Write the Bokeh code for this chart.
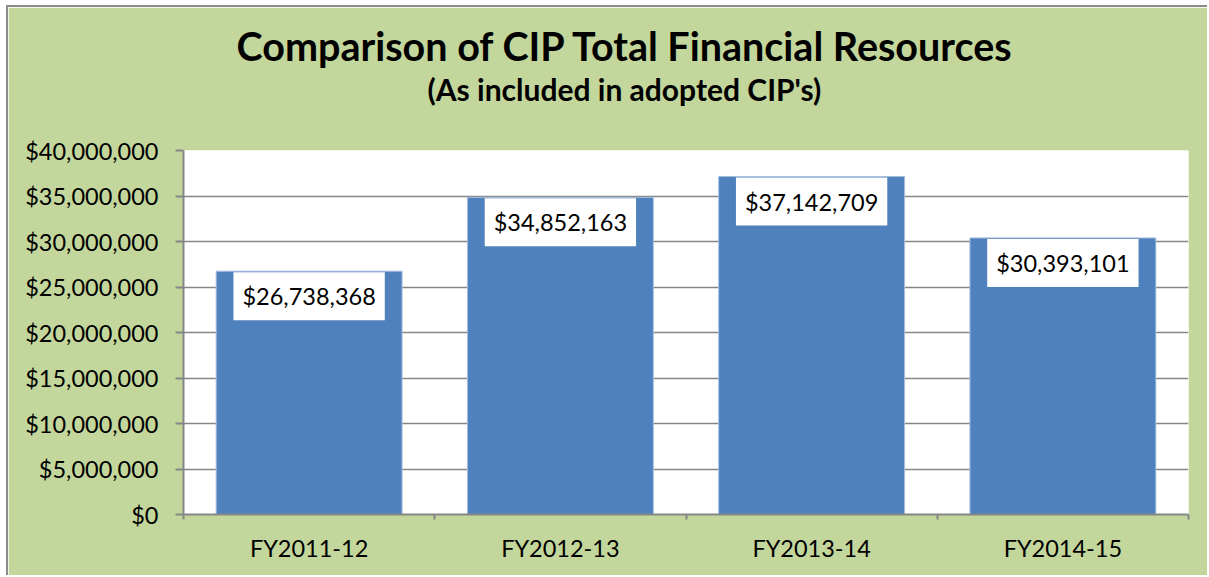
import numpy as np
from bokeh.plotting import figure
from bokeh.models import (ColumnDataSource, Range1d, FixedTicker, NumeralTickFormatter, Title)
from bokeh.core.properties import value
from bokeh.embed import file_html
from bokeh.resources import INLINE

categories = ["FY2011-12", "FY2012-13", "FY2013-14", "FY2014-15"]
totals = [26738368, 34852163, 37142709, 30393101]
y_ticks = [0, 5000000, 10000000, 15000000, 20000000, 25000000, 30000000, 35000000, 40000000]
title_text = "Comparison of CIP Total Financial Resources"
subtitle_text = "(As included in adopted CIP's)"

GREEN = "#C3D69B"
BLUE = "#4F81BD"
GRAY = "#868686"
FONT = "Lato"

xs = np.arange(len(categories)) + 0.5
labels = ["${:,}".format(v) for v in totals]
src = ColumnDataSource(dict(x=xs, top=totals, label=labels))

p = figure(width=1201, height=570, output_backend="svg", toolbar_location=None,
           x_range=Range1d(0, len(categories)), y_range=Range1d(0, 40000000),
           min_border_left=175, min_border_right=21, min_border_top=143, min_border_bottom=63)
p.styles = {"border-left": "2px solid #8C8C8C", "border-top": "2px solid #8C8C8C",
            "margin-left": "6px", "margin-top": "5px"}
p.background_fill_color = "white"
p.border_fill_color = GREEN
p.outline_line_color = None

p.vbar(x="x", top="top", width=0.74, source=src, fill_color=BLUE,
       line_color="#A7BFDE", line_width=1)

p.text(x="x", y="top", text="label", source=src, text_align="center",
       text_baseline="middle", y_offset=25, text_font=value(FONT),
       text_font_size="23.5px", text_color="black",
       background_fill_color="white", padding=dict(left=9, right=9, top=10, bottom=10))

# axes
yax = p.yaxis[0]
yax.ticker = FixedTicker(ticks=y_ticks, minor_ticks=[])
yax.formatter = NumeralTickFormatter(format="$0,0")
yax.axis_line_color = GRAY
yax.axis_line_width = 2
yax.major_tick_line_color = GRAY
yax.major_tick_line_width = 2
yax.major_tick_in = 0
yax.major_tick_out = 8
yax.major_label_standoff = 17
yax.major_label_text_font = FONT
yax.major_label_text_font_size = "23.5px"
yax.major_label_text_color = "black"

xax = p.xaxis[0]
xax.ticker = FixedTicker(ticks=list(xs), minor_ticks=list(range(len(categories) + 1)))
xax.major_label_overrides = {float(x): c for x, c in zip(xs, categories)}
xax.axis_line_color = GRAY
xax.axis_line_width = 2
xax.major_tick_line_color = None
xax.major_tick_in = 0
xax.major_tick_out = 0
xax.minor_tick_line_color = GRAY
xax.minor_tick_line_width = 2
xax.minor_tick_in = 0
xax.minor_tick_out = 5
xax.major_label_standoff = 14
xax.major_label_text_font = FONT
xax.major_label_text_font_size = "23.5px"
xax.major_label_text_color = "black"

p.xgrid.grid_line_color = None
p.ygrid.grid_line_color = GRAY
p.ygrid.grid_line_width = 1.5
p.ygrid.ticker = FixedTicker(ticks=y_ticks)

# spacer, then subtitle, then main title (stacked upward from the plot area)
p.add_layout(Title(text=" ", text_font_size="2px", standoff=40), "above")
p.add_layout(Title(text=subtitle_text, align="left", offset=244, text_font=FONT,
                   text_font_style="bold", text_font_size="30px", text_color="black",
                   standoff=0), "above")
p.add_layout(Title(text=title_text, align="left", offset=53, text_font=FONT,
                   text_font_style="bold", text_font_size="39.5px", text_color="black",
                   standoff=0), "above")

open("out.html", "w").write(file_html(p, INLINE))
